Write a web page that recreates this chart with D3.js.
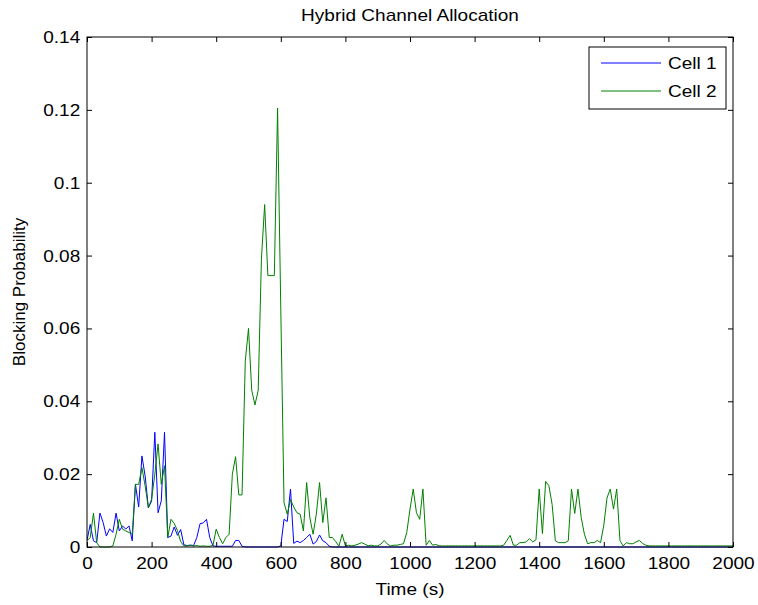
<!DOCTYPE html>
<html>
<head>
<meta charset="utf-8">
<script src="https://cdn.jsdelivr.net/npm/d3@7"></script>
<style>
  html, body { margin: 0; padding: 0; background: #fff; }
  svg { display: block; font-family: Arial, "Liberation Sans", Helvetica, sans-serif; }
</style>
</head>
<body>
<svg id="chart" width="758" height="605"></svg>
<script>
// Sampling grid (s): one reading every 10 s from 0 to 2000
const time = d3.range(0, 2001, 10);

// Blocking probability of cell 1, one value per sample
const cell1 = [
  0.0018, 0.0062, 0.0017, 0.0012, 0.0093, 0.0067, 0.0030, 0.0050, 0.0040, 0.0093,
  0.0044, 0.0058, 0.0049, 0.0058, 0.0017, 0.0172, 0.0110, 0.0250, 0.0195, 0.0108,
  0.0126, 0.0315, 0.0094, 0.0127, 0.0315, 0.0026, 0.0030, 0.0055, 0.0032, 0.0048,
  0.0006, 0.0004, 0.0005, 0.0004, 0.0026, 0.0064, 0.0066, 0.0076, 0.0026, 0.0003,
  0.0002, 0.0002, 0.0002, 0.0002, 0.0002, 0.0002, 0.0018, 0.0018, 0.0002, 0,
  0, 0, 0, 0, 0, 0, 0, 0, 0, 0,
  0.0003, 0.0076, 0.0070, 0.0159, 0.0010, 0.0016, 0.0012, 0.0018, 0.0026, 0.0035,
  0.0008, 0.0015, 0.0033, 0.0017, 0.0012, 0.0002, 0, 0, 0, 0,
  0, 0, 0, 0, 0, 0, 0, 0, 0, 0,
  0, 0, 0, 0, 0, 0, 0, 0, 0, 0,
  0, 0, 0, 0, 0, 0, 0, 0, 0, 0,
  0, 0, 0, 0, 0, 0, 0, 0, 0, 0,
  0, 0, 0, 0, 0, 0, 0, 0, 0, 0,
  0, 0, 0, 0, 0, 0, 0, 0, 0, 0,
  0, 0, 0, 0, 0, 0, 0, 0, 0, 0,
  0, 0, 0, 0, 0, 0, 0, 0, 0, 0,
  0, 0, 0, 0, 0, 0, 0, 0, 0, 0,
  0, 0, 0, 0, 0, 0, 0, 0, 0, 0,
  0, 0, 0, 0, 0, 0, 0, 0, 0, 0,
  0, 0, 0, 0, 0, 0, 0, 0, 0, 0,
  0
];

// Blocking probability of cell 2, one value per sample
const cell2 = [
  0.0017, 0.0026, 0.0093, 0.0012, 0, 0, 0, 0, 0.0003, 0.0035,
  0.0076, 0.0049, 0.0044, 0.0040, 0.0035, 0.0172, 0.0172, 0.0218, 0.0168, 0.0108,
  0.0131, 0.0200, 0.0283, 0.0172, 0.0223, 0.0026, 0.0076, 0.0065, 0.0045, 0.0015,
  0.0003, 0.0003, 0.0005, 0.0003, 0.0004, 0.0002, 0.0003, 0.0002, 0.0002, 0.0005,
  0.0049, 0.0026, 0.0009, 0.0026, 0.0035, 0.0200, 0.0248, 0.0143, 0.0143, 0.0510,
  0.0600, 0.0430, 0.0390, 0.0430, 0.0790, 0.0940, 0.0745, 0.0745, 0.0745, 0.1205,
  0.0650, 0.0122, 0.0090, 0.0130, 0.0110, 0.0094, 0.0090, 0.0044, 0.0177, 0.0080,
  0.0035, 0.0090, 0.0177, 0.0067, 0.0135, 0.0026, 0.0026, 0.0015, 0.0002, 0.0035,
  0.0003, 0.0005, 0.0003, 0.0005, 0.0008, 0.0012, 0.0008, 0.0003, 0.0005, 0.0003,
  0.0003, 0.0008, 0.0018, 0.0008, 0.0003, 0.0005, 0.0005, 0.0007, 0.0009, 0.0040,
  0.0104, 0.0159, 0.0094, 0.0076, 0.0159, 0.0005, 0.0018, 0.0005, 0.0007, 0.0003,
  0.0003, 0.0003, 0.0003, 0.0003, 0.0003, 0.0003, 0.0003, 0.0003, 0.0003, 0.0003,
  0.0003, 0.0003, 0.0003, 0.0003, 0.0003, 0.0003, 0.0003, 0.0003, 0.0003, 0.0005,
  0.0018, 0.0032, 0.0005, 0.0005, 0.0012, 0.0012, 0.0014, 0.0023, 0.0014, 0.0020,
  0.0159, 0.0037, 0.0180, 0.0168, 0.0117, 0.0017, 0.0012, 0.0012, 0.0012, 0.0017,
  0.0159, 0.0092, 0.0159, 0.0081, 0.0035, 0.0009, 0.0012, 0.0012, 0.0018, 0.0012,
  0.0060, 0.0135, 0.0159, 0.0104, 0.0159, 0.0018, 0.0003, 0.0012, 0.0009, 0.0009,
  0.0014, 0.0018, 0.0010, 0.0005, 0.0003, 0.0003, 0.0003, 0.0003, 0.0003, 0.0003,
  0.0003, 0.0003, 0.0003, 0.0003, 0.0003, 0.0003, 0.0003, 0.0003, 0.0003, 0.0003,
  0.0003, 0.0003, 0.0003, 0.0003, 0.0003, 0.0003, 0.0003, 0.0003, 0.0003, 0.0003,
  0.0003
];

const seriesNames = ["Cell 1", "Cell 2"];
const seriesColors = ["#0000ff", "#008000"];

const xTicks = [0, 200, 400, 600, 800, 1000, 1200, 1400, 1600, 1800, 2000];
const yTicks = [0, 0.02, 0.04, 0.06, 0.08, 0.1, 0.12, 0.14];
const yTickLabels = ["0", "0.02", "0.04", "0.06", "0.08", "0.1", "0.12", "0.14"];

const titleText = "Hybrid Channel Allocation";
const xLabel = "Time (s)";
const yLabel = "Blocking Probability";

// Layout
const svg = d3.select("#chart");
const plot = { left: 87, top: 37, width: 646, height: 510 };
const fontSize = 17;
const stretch = 1.12; // horizontal widening of the lettering

const x = d3.scaleLinear().domain([0, 2000]).range([0, plot.width]);
const y = d3.scaleLinear().domain([0, 0.14]).range([plot.height, 0]);

const g = svg.append("g").attr("transform", `translate(${plot.left},${plot.top})`);

g.append("defs").append("clipPath").attr("id", "plotClip")
  .append("rect").attr("x", 0).attr("y", -1).attr("width", plot.width).attr("height", plot.height + 2);

// Data lines (cell 1 first, cell 2 drawn over it)
const line = d3.line()
  .x((d, i) => x(time[i]))
  .y(d => y(d));

[cell1, cell2].forEach((vals, s) => {
  g.append("path")
    .datum(vals)
    .attr("clip-path", "url(#plotClip)")
    .attr("fill", "none")
    .attr("stroke", seriesColors[s])
    .attr("stroke-width", 1)
    .attr("stroke-linejoin", "round")
    .attr("d", line);
});

// Axes with inward ticks on all four sides
const tickLen = 5;
function styleAxis(sel) {
  sel.selectAll(".domain").remove();
  sel.selectAll(".tick line").attr("stroke", "#000");
  sel.selectAll("text")
    .attr("fill", "#000")
    .style("font-size", fontSize + "px")
    .attr("transform", `scale(${stretch},1)`);
}

g.append("g")
  .attr("transform", `translate(0,${plot.height})`)
  .call(d3.axisBottom(x).tickValues(xTicks).tickSize(-tickLen).tickPadding(10).tickFormat(d3.format("d")))
  .call(styleAxis);

g.append("g")
  .call(d3.axisTop(x).tickValues(xTicks).tickSize(-tickLen).tickFormat(""))
  .call(styleAxis);

g.append("g")
  .call(d3.axisLeft(y).tickValues(yTicks).tickSize(-tickLen).tickPadding(6)
    .tickFormat((d, i) => yTickLabels[i]))
  .call(styleAxis);

g.append("g")
  .attr("transform", `translate(${plot.width},0)`)
  .call(d3.axisRight(y).tickValues(yTicks).tickSize(-tickLen).tickFormat(""))
  .call(styleAxis);

svg.selectAll("g").attr("font-family", null);

// Frame
g.append("rect")
  .attr("x", 0).attr("y", 0)
  .attr("width", plot.width).attr("height", plot.height)
  .attr("fill", "none").attr("stroke", "#000").attr("stroke-width", 1);

// Horizontal text placed at (px, py) with the shared widening
function hText(px, py, str, anchor) {
  return svg.append("text")
    .attr("transform", `translate(${px},${py}) scale(${stretch},1)`)
    .attr("text-anchor", anchor)
    .style("font-size", fontSize + "px")
    .text(str);
}

// Title and axis labels
hText(plot.left + plot.width / 2, 21, titleText, "middle");
hText(plot.left + plot.width / 2, 595, xLabel, "middle");

svg.append("text")
  .attr("transform", `translate(25,${plot.top + plot.height / 2}) rotate(-90)`)
  .attr("text-anchor", "middle").style("font-size", fontSize + "px")
  .text(yLabel);

// Legend
const legend = svg.append("g").attr("transform", "translate(589,47)");
legend.append("rect")
  .attr("width", 137).attr("height", 62)
  .attr("fill", "#fff").attr("stroke", "#000").attr("stroke-width", 1);
seriesNames.forEach((name, i) => {
  const ly = 16 + i * 28;
  legend.append("line")
    .attr("x1", 12).attr("x2", 72).attr("y1", ly).attr("y2", ly)
    .attr("stroke", seriesColors[i]).attr("stroke-width", 1);
  legend.append("text")
    .attr("transform", `translate(79,${ly + 6}) scale(${stretch},1)`)
    .style("font-size", fontSize + "px")
    .text(name);
});
</script>
</body>
</html>
